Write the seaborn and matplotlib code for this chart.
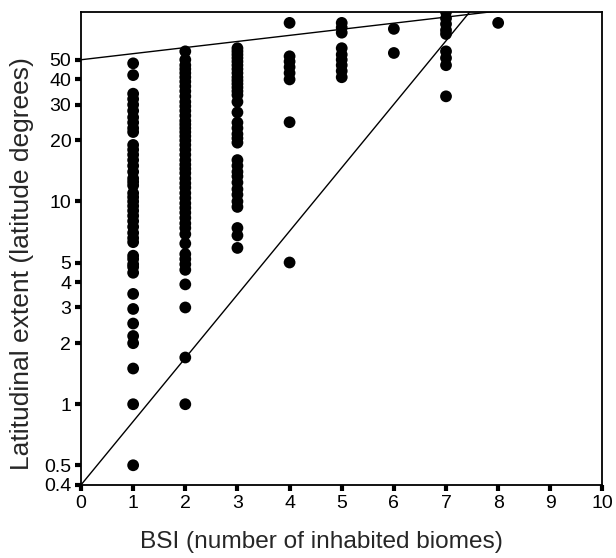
import numpy as np
import pandas as pd
import seaborn as sns
import matplotlib.pyplot as plt
from matplotlib.ticker import FixedLocator, FixedFormatter, NullLocator

# latitudinal extent per BSI value
bsi_1 = [48, 42, 34, 32, 30, 28, 26, 24.5, 23, 22,
         19, 18, 17, 16, 15, 14, 13, 12.5, 12, 11, 10.5, 10, 9.5, 9, 8.5, 8, 7.5, 7, 6.6,
         6.3, 5.4, 5.2, 4.9, 4.75, 4.45, 3.5, 2.95, 2.5, 2.17, 2.0, 1.5, 1.0, 0.5]
bsi_2 = [55, 50, 47, 45, 43, 41, 39, 37, 35, 33, 31, 29.5, 28, 26.5, 25, 24, 23, 22, 21,
         20, 19, 18, 17, 16, 15.2, 14.5, 13.8, 13, 12.3, 11.7, 11, 10.4, 9.8, 9.3, 8.8,
         8.3, 7.8, 7.4, 6.9, 6.2, 5.5, 5.2, 4.9, 4.6, 3.9, 3.0, 1.7, 1.0]
bsi_3 = [57, 55, 53, 51, 49, 47, 45, 43, 41, 39.5, 38, 36.5, 35, 33.5, 31, 27.5,
         24.5, 23, 21.5, 20.5, 19.5, 16, 15, 14, 13.3, 12.4, 11.5, 10.8, 10, 9.4,
         7.4, 6.8, 5.9]
bsi_4 = [76, 52, 49, 46, 43, 40, 24.6, 5]
bsi_5 = [76, 72, 68, 57, 53, 50, 47, 44, 41]
bsi_6 = [71, 54]
bsi_7 = [86, 80, 75, 70, 67, 55, 51, 47, 33]
bsi_8 = [76]

# boundary lines (x, y endpoints)
upper_x = [0, 8]
upper_y = [50, 87]
lower_x = [0, 7.47]
lower_y = [0.4, 87]

y_ticks = [0.4, 0.5, 1, 2, 3, 4, 5, 10, 20, 30, 40, 50]
y_labels = ["0.4", "0.5", "1", "2", "3", "4", "5", "10", "20", "30", "40", "50"]

cols = [bsi_1, bsi_2, bsi_3, bsi_4, bsi_5, bsi_6, bsi_7, bsi_8]
df = pd.DataFrame({
    "bsi": np.concatenate([[i + 1] * len(c) for i, c in enumerate(cols)]),
    "extent": np.concatenate(cols),
})

sns.set_style("ticks")
plt.rcParams["font.family"] = ["Liberation Sans", "DejaVu Sans"]

fig = plt.figure(figsize=(6.16, 5.58), dpi=100)
ax = fig.add_axes([0.1315, 0.131, 0.8465, 0.8475])

sns.scatterplot(data=df, x="bsi", y="extent", color="black", s=72,
                edgecolor="none", ax=ax, legend=False)
ax.plot(upper_x, upper_y, color="black", lw=1)
ax.plot(lower_x, lower_y, color="black", lw=1)

ax.set_yscale("log")
ax.set_ylim(0.4, 86)
ax.set_xlim(0, 10)
ax.set_xticks(range(0, 11))
ax.yaxis.set_major_locator(FixedLocator(y_ticks))
ax.yaxis.set_major_formatter(FixedFormatter(y_labels))
ax.yaxis.set_minor_locator(NullLocator())

for side in ["top", "right", "bottom", "left"]:
    ax.spines[side].set_visible(True)
    ax.spines[side].set_color("black")
    ax.spines[side].set_linewidth(1.3)

ax.tick_params(axis="both", direction="out", length=4, width=3, labelsize=14,
               colors="black", pad=3)
ax.set_xlabel("BSI (number of inhabited biomes)", fontsize=17.6)
ax.set_ylabel("Latitudinal extent (latitude degrees)", fontsize=19)
ax.xaxis.set_label_coords(0.462, -0.097)
ax.yaxis.set_label_coords(-0.091, 0.467)

fig.savefig("out.png", dpi=100)
